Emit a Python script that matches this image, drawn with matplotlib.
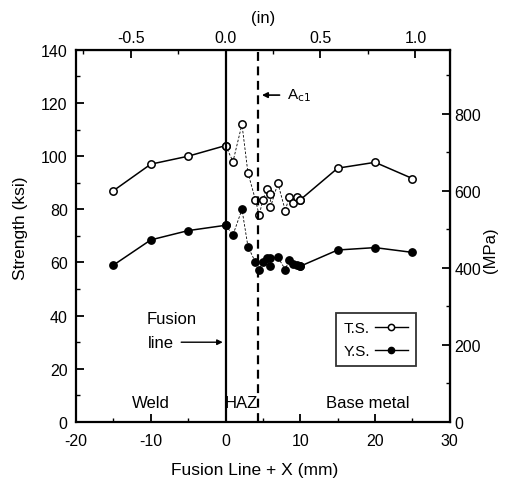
import numpy as np
import matplotlib.pyplot as plt
from matplotlib.lines import Line2D

plt.rcParams['font.family'] = ['Liberation Sans', 'DejaVu Sans']
plt.rcParams['axes.unicode_minus'] = False

# Данные: расстояние от линии сплавления (мм) и прочность (ksi)
weld_x = [-15, -10, -5, 0]
weld_ts = [87, 97, 100, 104]
weld_ys = [59, 68.5, 72, 74]

haz_x = [0, 1.0, 2.2, 3.0, 4.0, 4.5, 5.0, 5.5, 6.0, 6.0, 7.0, 8.0, 8.5, 9.0, 9.5, 10.0]
haz_ts = [104, 98, 112, 93.7, 83.6, 77.8, 83.6, 87.7, 85.7, 80.7, 89.8, 79.5, 84.6, 82.4, 84.8, 83.6]
haz_ys = [74, 70.4, 80, 66, 60.1, 57.3, 60.1, 61.7, 58.6, 61.7, 62, 57.3, 61, 59.5, 59.2, 58.6]

base_x = [10, 15, 20, 25]
base_ts = [83.6, 95.5, 97.7, 91.6]
base_ys = [58.6, 64.7, 65.6, 63.8]

fusion_x = 0
ac1_x = 4.4

fig = plt.figure(figsize=(5.1, 4.85), dpi=100)
ax = fig.add_axes([0.149, 0.128, 0.733, 0.767])

mk_open = dict(marker='o', ms=5.3, mfc='white', mec='black', mew=1.1, color='black')
mk_fill = dict(marker='o', ms=5.3, mfc='black', mec='black', color='black')

ax.plot(weld_x, weld_ts, lw=1.1, **mk_open)
ax.plot(weld_x, weld_ys, lw=1.1, **mk_fill)
ax.plot(haz_x, haz_ts, lw=0.6, ls=(0, (3, 2)), **mk_open)
ax.plot(haz_x, haz_ys, lw=0.6, ls=(0, (3, 2)), **mk_fill)
ax.plot(base_x, base_ts, lw=1.1, **mk_open)
ax.plot(base_x, base_ys, lw=1.1, **mk_fill)

ax.axvline(fusion_x, color='black', lw=1.6)
ax.axvline(ac1_x, color='black', lw=1.6, ls=(0, (4, 2.5)))

ax.set_xlim(-20, 30)
ax.set_ylim(0, 140)
ax.set_xticks(np.arange(-20, 31, 10))
ax.set_xticks(np.arange(-20, 31, 5), minor=True)
ax.set_yticks(np.arange(0, 141, 20))
ax.set_yticks(np.arange(0, 141, 10), minor=True)
ax.tick_params(which='both', direction='in', labelsize=11.5)
ax.tick_params(which='major', length=6, width=1.3)
ax.tick_params(which='minor', length=3, width=1.0)
ax.tick_params(axis='x', which='major', pad=8)
ax.tick_params(axis='y', which='major', pad=6)
for s in ax.spines.values():
    s.set_linewidth(1.6)

ax.set_xlabel('Fusion Line + X (mm)', fontsize=12.5)
ax.xaxis.set_label_coords(0.479, -0.108)
ax.set_ylabel('Strength (ksi)', fontsize=12.5)
ax.yaxis.set_label_coords(-0.128, 0.524)

# Верхняя ось в дюймах
top = ax.secondary_xaxis('top', functions=(lambda x: x / 25.4, lambda x: x * 25.4))
top.set_xticks([-0.5, 0.0, 0.5, 1.0])
top.set_xticklabels(['-0.5', '0.0', '0.5', '1.0'])
top.set_xticks(np.arange(-0.75, 1.2, 0.25), minor=True)
top.tick_params(which='both', direction='in', labelsize=11.5)
top.tick_params(which='major', length=6, width=1.3)
top.tick_params(which='minor', length=3, width=1.0)
top.set_xlabel('(in)', fontsize=12, labelpad=6)

# Правая ось в МПа
right = ax.secondary_yaxis('right', functions=(lambda y: y * 6.895, lambda y: y / 6.895))
right.set_yticks(np.arange(0, 801, 200))
right.set_yticks(np.arange(0, 901, 100), minor=True)
right.tick_params(which='both', direction='in', labelsize=11.5)
right.tick_params(which='major', length=6, width=1.3)
right.tick_params(which='minor', length=3, width=1.0)
fig.text(491 / 510, 1 - 250 / 485, '(MPa)', fontsize=12, rotation=90,
         ha='center', va='center')

# Подписи
ax.text(-7.2, 38.8, 'Fusion', fontsize=12, ha='center', va='center')
ax.text(-8.7, 30, 'line', fontsize=12, ha='center', va='center')
ax.annotate('', xy=(0, 30), xytext=(-6.3, 30),
            arrowprops=dict(arrowstyle='-|>', color='black', lw=1.0, mutation_scale=8))
ax.annotate('', xy=(4.5, 123), xytext=(7.6, 123),
            arrowprops=dict(arrowstyle='-|>', color='black', lw=1.2, mutation_scale=8))
ax.text(8.2, 123, r'A$_{\rm c1}$', fontsize=11, ha='left', va='center')

ax.text(-10, 7.2, 'Weld', fontsize=12, ha='center', va='center')
ax.text(2.1, 7.2, 'HAZ', fontsize=12, ha='center', va='center')
ax.text(19, 7.2, 'Base metal', fontsize=12, ha='center', va='center')

handles = [Line2D([], [], lw=1.0, **mk_open), Line2D([], [], lw=1.0, **mk_fill)]
leg = ax.legend(handles, ['T.S.', 'Y.S.'], loc='lower right', bbox_to_anchor=(0.909, 0.151),
                borderaxespad=0, markerfirst=False, fontsize=11, frameon=True,
                fancybox=False, edgecolor='black', handlelength=2.2, handletextpad=0.3,
                borderpad=0.5, labelspacing=0.6, markerscale=0.85)
leg.get_frame().set_linewidth(1.3)

fig.savefig('out.png', dpi=100)
